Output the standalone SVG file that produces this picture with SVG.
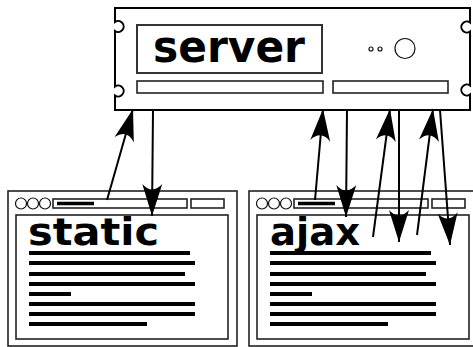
<svg xmlns="http://www.w3.org/2000/svg" width="473" height="347" viewBox="0 0 473 347">
  <defs>
    <style>
      .frame { fill: #fff; stroke: #000; stroke-width: 2; }
      .box { fill: none; stroke: #222; stroke-width: 1.6; }
      .thin { fill: none; stroke: #111; stroke-width: 1.2; }
      .label { font-family: "DejaVu Sans", sans-serif; font-weight: bold; fill: #000; }
      .txt { stroke: #000; stroke-width: 4; }
      .bar { fill: none; stroke: #000; stroke-width: 3.5; }
      .conn { fill: none; stroke: #000; stroke-width: 2; }
    </style>
    <marker id="head" markerUnits="userSpaceOnUse" viewBox="-34 -12 36 24" refX="0" refY="0" markerWidth="36" markerHeight="24" orient="auto">
      <path d="M0,0 L-32,-10 Q-21,0 -32,10 Z" fill="#000"/>
    </marker>
    <!-- browser window template -->
    <g id="browser">
      <rect x="8" y="191" width="229" height="155" class="box"/>
      <rect x="16" y="215" width="212" height="124" class="box"/>
      <circle cx="21" cy="203.5" r="5.5" class="thin"/>
      <circle cx="33" cy="203.5" r="5.5" class="thin"/>
      <circle cx="45" cy="203.5" r="5.5" class="thin"/>
      <rect x="53" y="199" width="134" height="9" class="box"/>
      <rect x="191" y="199" width="33" height="9" class="box"/>
      <line x1="57" y1="203.5" x2="94" y2="203.5" class="bar"/>
      <g class="txt">
        <line x1="29" y1="253" x2="190" y2="253"/>
        <line x1="29" y1="263" x2="195" y2="263"/>
        <line x1="29" y1="274" x2="185" y2="274"/>
        <line x1="29" y1="284" x2="195" y2="284"/>
        <line x1="29" y1="294" x2="71" y2="294"/>
        <line x1="29" y1="304" x2="195" y2="304"/>
        <line x1="29" y1="314" x2="195" y2="314"/>
        <line x1="29" y1="324" x2="147" y2="324"/>
      </g>
    </g>
  </defs>

  <!-- server rack unit -->
  <g id="server">
    <path class="frame" d="M115,8 H470 V22.5 A5.5,5.5 0 1 0 470,31.5 V85.5 A5.5,5.5 0 1 0 470,94.5 V110 H115 V95.5 A5.5,5.5 0 1 0 115,86.5 V31 A5.5,5.5 0 1 0 115,22 Z"/>
    <rect x="137" y="25" width="185" height="48" fill="none" stroke="#333" stroke-width="2"/>
    <text x="153" y="62" class="label" font-size="44" textLength="152" lengthAdjust="spacingAndGlyphs">server</text>
    <rect x="137" y="81" width="186" height="12" class="box"/>
    <rect x="333" y="81" width="115" height="12" class="box"/>
    <circle cx="371" cy="49" r="2" class="thin" stroke-width="1"/>
    <circle cx="380" cy="49" r="2" class="thin" stroke-width="1"/>
    <circle cx="405" cy="48.5" r="10" class="thin"/>
  </g>

  <!-- static page browser -->
  <g id="static">
    <use href="#browser"/>
    <text x="28" y="245" class="label" font-size="37" textLength="131" lengthAdjust="spacingAndGlyphs">static</text>
  </g>

  <!-- ajax page browser -->
  <g id="ajax">
    <use href="#browser" transform="translate(241,0)"/>
    <text x="270" y="245" class="label" font-size="37" textLength="90" lengthAdjust="spacingAndGlyphs">ajax</text>
  </g>

  <!-- requests and responses -->
  <g id="connectors" class="conn" marker-end="url(#head)">
    <line x1="107" y1="200" x2="133" y2="109"/>
    <line x1="153" y1="110" x2="152" y2="216"/>
    <line x1="315" y1="200" x2="323" y2="109"/>
    <line x1="347" y1="110" x2="346" y2="217"/>
    <line x1="373" y1="237" x2="390" y2="109"/>
    <line x1="399" y1="110" x2="399" y2="242"/>
    <line x1="417" y1="235" x2="433" y2="109"/>
    <line x1="440" y1="110" x2="450" y2="245"/>
  </g>
</svg>
